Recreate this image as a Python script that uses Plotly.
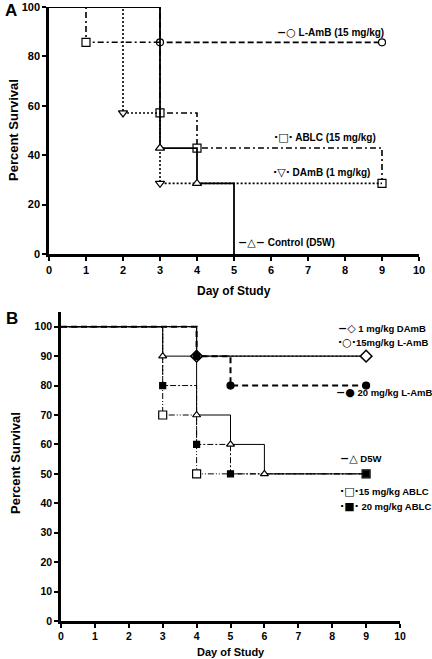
import plotly.graph_objects as go

# ---------------- Panel A data ----------------
a_lamb_days = [0, 3, 9]
a_lamb_surv = [100, 85.7, 85.7]
a_lamb_mark = [False, True, True]

a_ablc_days = [0, 1, 3, 4, 9]
a_ablc_surv = [100, 85.7, 57.1, 42.9, 28.6]
a_ablc_mark = [False, True, True, True, True]

a_damb_days = [0, 2, 3, 9]
a_damb_surv = [100, 57.1, 28.6, 28.6]
a_damb_mark = [False, True, True, False]

a_ctrl_days = [0, 3, 4, 5]
a_ctrl_surv = [100, 42.9, 28.6, 0]
a_ctrl_mark = [False, True, True, False]

# ---------------- Panel B data ----------------
b_damb1_days = [0, 4, 9]
b_damb1_surv = [100, 90, 90]
b_damb1_mark = [False, True, True]

b_lamb15_days = [0, 4, 9]
b_lamb15_surv = [100, 90, 90]
b_lamb15_mark = [False, True, True]

b_lamb20_days = [0, 4, 5, 9]
b_lamb20_surv = [100, 90, 80, 80]
b_lamb20_mark = [False, True, True, True]

b_d5w_days = [0, 3, 4, 5, 6, 9]
b_d5w_surv = [100, 90, 70, 60, 50, 50]
b_d5w_mark = [False, True, True, True, True, False]

b_ablc15_days = [0, 3, 4, 9]
b_ablc15_surv = [100, 70, 50, 50]
b_ablc15_mark = [False, True, True, True]

b_ablc20_days = [0, 3, 4, 5, 9]
b_ablc20_surv = [100, 80, 60, 50, 50]
b_ablc20_mark = [False, True, True, True, True]

x_ticks = list(range(0, 11))
a_y_ticks = [0, 20, 40, 60, 80, 100]
b_y_ticks = list(range(0, 101, 10))

FONT = "Liberation Sans, Arial, sans-serif"
W, H = 432, 659

fig = go.Figure()


def add_series(days, surv, mark, xa, ya, dash, width, symbol, msize, mfill, mline=1.2):
    fig.add_trace(go.Scatter(
        x=days, y=surv, mode="lines", line=dict(shape="hv", color="black", width=width, dash=dash),
        xaxis=xa, yaxis=ya, showlegend=False, hoverinfo="skip"))
    mx = [d for d, m in zip(days, mark) if m]
    my = [s for s, m in zip(surv, mark) if m]
    fig.add_trace(go.Scatter(
        x=mx, y=my, mode="markers",
        marker=dict(symbol=symbol, size=msize, color=mfill, line=dict(color="black", width=mline)),
        xaxis=xa, yaxis=ya, showlegend=False, cliponaxis=False))


# Panel A
add_series(a_lamb_days, a_lamb_surv, a_lamb_mark, "x", "y", "6px,3px", 1.8, "circle", 7, "white")
add_series(a_ablc_days, a_ablc_surv, a_ablc_mark, "x", "y", "6px,3px,2px,3px", 1.6, "square", 8, "white")
add_series(a_damb_days, a_damb_surv, a_damb_mark, "x", "y", "2px,2px", 1.6, "triangle-down", 8, "white")
add_series(a_ctrl_days, a_ctrl_surv, a_ctrl_mark, "x", "y", "solid", 1.8, "triangle-up", 8, "white")

# Panel B
add_series(b_ablc15_days, b_ablc15_surv, b_ablc15_mark, "x2", "y2", "6px,2px,1px,2px,1px,2px", 1, "square", 8, "white")
add_series(b_ablc20_days, b_ablc20_surv, b_ablc20_mark, "x2", "y2", "6px,2px,2px,2px", 1, "square", 6, "black")
add_series(b_d5w_days, b_d5w_surv, b_d5w_mark, "x2", "y2", "solid", 1, "triangle-up", 7, "white")
add_series(b_lamb15_days, b_lamb15_surv, b_lamb15_mark, "x2", "y2", "2px,2px", 1, "circle", 6, "white")
add_series(b_damb1_days, b_damb1_surv, b_damb1_mark, "x2", "y2", "solid", 1.3, "diamond", 9, "white", 1.5)
add_series(b_lamb20_days, b_lamb20_surv, b_lamb20_mark, "x2", "y2", "6px,4px", 2, "circle", 7, "black")

axis_common = dict(showline=True, linecolor="black", linewidth=2.5, ticks="outside", ticklen=4,
                   tickwidth=1.5, tickcolor="black", showgrid=False, zeroline=False, automargin=False)
tf_a = dict(family=FONT, size=11, color="black", weight="bold")
tf_b = dict(family=FONT, size=10.5, color="black", weight="bold")

fig.update_layout(
    width=W, height=H, margin=dict(l=0, r=0, t=0, b=0),
    paper_bgcolor="white", plot_bgcolor="white",
    xaxis=dict(domain=[49 / W, 419 / W], range=[0, 10], tickvals=x_ticks, anchor="y", tickfont=tf_a, **axis_common),
    yaxis=dict(domain=[1 - 254 / H, 1 - 7 / H], range=[0, 100], tickvals=a_y_ticks, anchor="x", tickfont=tf_a, **axis_common),
    xaxis2=dict(domain=[61 / W, 400 / W], range=[0, 10], tickvals=x_ticks, anchor="y2", tickfont=tf_b, **axis_common),
    yaxis2=dict(domain=[1 - 621 / H, 1 - 312 / H], range=[0, 105], tickvals=b_y_ticks, anchor="x2", tickfont=tf_b, **axis_common),
)

ann = []
SYM = "<span style='font-family:DejaVu Sans;font-size:11px'>{}</span>"


def label(sym, text, x, y, xref, yref, size=10):
    ann.append(dict(text=SYM.format(sym) + text, x=x, y=y, xref=xref, yref=yref, xanchor="left",
                    yanchor="middle", showarrow=False,
                    font=dict(family=FONT, size=size, color="black", weight="bold")))


# Panel A labels
label("−○", " L-AmB (15 mg/kg)", 6.1, 89.5, "x", "y")
label("·□·", " ABLC (15 mg/kg)", 6.03, 47, "x", "y")
label("·▽·", " DAmB (1 mg/kg)", 6.0, 33, "x", "y")
label("−△−", " Control (D5W)", 5.05, 4.5, "x", "y")

# Panel B labels
label("−◇", " 1 mg/kg DAmB", 8.1, 99.3, "x2", "y2", 9.5)
label("·○·", "15mg/kg L-AmB", 8.12, 94.6, "x2", "y2", 9.5)
label("−●", " 20 mg/kg L-AmB", 8.05, 77.6, "x2", "y2", 9.5)
label("−△", " D5W", 8.17, 55.1, "x2", "y2", 9.5)
label("·□·", "15 mg/kg ABLC", 8.17, 43.9, "x2", "y2", 9.5)
label("·■·", " 20 mg/kg ABLC", 8.17, 38.8, "x2", "y2", 9.5)

# Axis titles and panel letters
def ptext(text, px, py, size, angle=0):
    ann.append(dict(text=text, x=px / W, y=1 - py / H, xref="paper", yref="paper", xanchor="center",
                    yanchor="middle", showarrow=False, textangle=angle,
                    font=dict(family=FONT, size=size, color="black", weight="bold")))


ptext("A", 11, 11, 17)
ptext("B", 12, 318, 17)
ptext("Percent Survival", 13, 130, 13, -90)
ptext("Percent Survival", 15, 463, 13, -90)
ptext("Day of Study", 234, 291, 12)
ptext("Day of Study", 231, 652, 11)

fig.update_layout(annotations=ann)
fig.write_html("out.html", config={"displayModeBar": False},
               post_script="document.body.style.margin='0px';document.body.style.overflow='hidden';")
